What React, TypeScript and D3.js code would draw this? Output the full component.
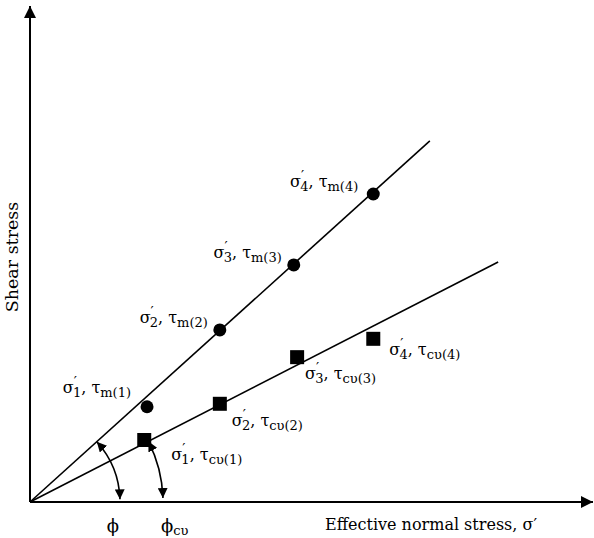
import React from "react";
import * as d3 from "d3";

// Peak strength points (sigma', tau_m)
const peakSigma = [20.9, 33.9, 47.1, 61.3];
const peakTau = [19.2, 34.7, 47.8, 62.1];
// Critical-state points (sigma', tau_cv)
const cvSigma = [20.4, 33.9, 47.7, 61.3];
const cvTau = [12.5, 19.8, 29.2, 32.9];
// Failure envelope end points
const peakLineEnd = [71.4, 72.8];
const cvLineEnd = [83.6, 48.4];
const pointIndex = ["1", "2", "3", "4"];

const W = 594;
const H = 538;
const FONT = "'DejaVu Serif', 'Liberation Serif', serif";

export default function App() {
  const x = d3.scaleLinear().domain([0, 100]).range([30, 590]);
  const y = d3.scaleLinear().domain([0, 100]).range([502, 6]);
  const ox = x(0);
  const oy = y(0);

  const angle = (end: number[]) => Math.atan2(oy - y(end[1]), x(end[0]) - ox);
  const arcPath = (r: number, a: number) => {
    const p = d3.path();
    p.moveTo(ox + r * Math.cos(a), oy - r * Math.sin(a));
    p.arc(ox, oy, r, -a, -0.03, false);
    return p.toString();
  };

  const peakOffsets = [
    [-16, -14],
    [-12, -7],
    [-12, -7],
    [-15, -7],
  ];
  const cvOffsets = [
    [27, 20],
    [12, 22],
    [8, 22],
    [16, 16],
  ];

  const label = (n: string, sub: string) => (
    <>
      σ
      <tspan dy={-6} fontSize={14}>′</tspan>
      <tspan dx={-4} dy={10} fontSize={13}>{n}</tspan>
      <tspan dy={-4}>, τ</tspan>
      <tspan dy={4} fontSize={13}>{sub}({n})</tspan>
    </>
  );

  return (
    <svg
      width={W}
      height={H}
      style={{ position: "absolute", left: 0, top: 0, background: "#fff" }}
      fontFamily={FONT}
    >
      <defs>
        <marker id="ah" viewBox="0 0 10 10" refX="10" refY="5" markerWidth="10" markerHeight="10" markerUnits="userSpaceOnUse" orient="auto-start-reverse">
          <path d="M0,0 L10,5 L0,10 Z" fill="#000" />
        </marker>
        <marker id="axh" viewBox="0 0 10 10" refX="10" refY="5" markerWidth="12" markerHeight="12" markerUnits="userSpaceOnUse" orient="auto">
          <path d="M0,0 L10,5 L0,10 Z" fill="#000" />
        </marker>
      </defs>

      {/* axes */}
      <line x1={ox} y1={oy} x2={ox} y2={6} stroke="#000" strokeWidth={2} markerEnd="url(#axh)" />
      <line x1={ox} y1={oy} x2={593} y2={oy} stroke="#000" strokeWidth={2} markerEnd="url(#axh)" />

      {/* envelopes */}
      <line x1={ox} y1={oy} x2={x(peakLineEnd[0])} y2={y(peakLineEnd[1])} stroke="#000" strokeWidth={1.6} />
      <line x1={ox} y1={oy} x2={x(cvLineEnd[0])} y2={y(cvLineEnd[1])} stroke="#000" strokeWidth={1.6} />

      {/* angle arcs */}
      <path d={arcPath(90, angle(peakLineEnd))} fill="none" stroke="#000" strokeWidth={1.6} markerStart="url(#ah)" markerEnd="url(#ah)" />
      <path d={arcPath(133, angle(cvLineEnd))} fill="none" stroke="#000" strokeWidth={1.6} markerStart="url(#ah)" markerEnd="url(#ah)" />

      {/* points */}
      {peakSigma.map((s, i) => (
        <circle key={"c" + i} cx={x(s)} cy={y(peakTau[i])} r={6.5} fill="#000" />
      ))}
      {cvSigma.map((s, i) => (
        <rect key={"r" + i} x={x(s) - 7} y={y(cvTau[i]) - 7} width={14} height={14} fill="#000" />
      ))}

      {peakSigma.map((s, i) => (
        <text key={"pl" + i} x={x(s) + peakOffsets[i][0]} y={y(peakTau[i]) + peakOffsets[i][1]} fontSize={16} textAnchor="end">
          {label(pointIndex[i], "m")}
        </text>
      ))}
      {cvSigma.map((s, i) => (
        <text key={"cl" + i} x={x(s) + cvOffsets[i][0]} y={y(cvTau[i]) + cvOffsets[i][1]} fontSize={16}>
          {label(pointIndex[i], "cυ")}
        </text>
      ))}

      {/* angle labels */}
      <text x={113} y={532} fontSize={18} textAnchor="middle">ϕ</text>
      <text x={161} y={532} fontSize={18}>
        ϕ<tspan dy={3} fontSize={13}>cυ</tspan>
      </text>

      {/* axis titles */}
      <text x={325} y={530} fontSize={16}>Effective normal stress, σ′</text>
      <text transform={`translate(18, 257) rotate(-90)`} fontSize={17.5} textAnchor="middle">Shear stress</text>
    </svg>
  );
}
